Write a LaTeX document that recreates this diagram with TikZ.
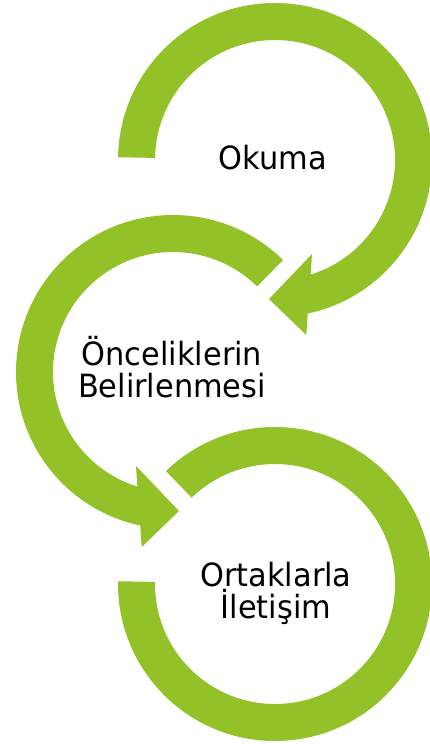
\documentclass[tikz,border=0pt]{standalone}
\usepackage{fontspec}
\setmainfont{DejaVu Sans}[FakeStretch=0.95]
\definecolor{arrowgreen}{RGB}{146,193,40}
\begin{document}
\begin{tikzpicture}[x=1pt,y=1pt,
  lbl/.style={font=\fontsize{32}{31.5}\selectfont, align=center, inner sep=0pt, text=black},
  ring/.style={fill=arrowgreen}]
\useasboundingbox (0,0) rectangle (429,-744);
\coordinate (c1) at (275,-160);
\coordinate (c2) at (173,-372);
\coordinate (c3) at (275,-584);
% circle 1: clockwise, arrow at bottom
\begin{scope}[shift={(c1)}]
\fill[ring] (179:157pt) arc[start angle=179,end angle=-77.95,radius=157pt]
  -- (31.3pt,-175pt) -- (-6pt,-139pt) -- (37pt,-94pt)
  -- (-72.73:120pt) arc[start angle=-72.73,end angle=179,radius=120pt] -- cycle;
\end{scope}
% circle 2: counter-clockwise, arrow at bottom
\begin{scope}[shift={(c2)}]
\fill[ring] (45.5:157pt) arc[start angle=45.5,end angle=257.95,radius=157pt]
  -- (-31.3pt,-175pt) -- (6pt,-139pt) -- (-37pt,-94pt)
  -- (252.73:120pt) arc[start angle=252.73,end angle=45.5,radius=120pt] -- cycle;
\end{scope}
% circle 3: clockwise, open end at left
\begin{scope}[shift={(c3)}]
\fill[ring] (134:157pt) arc[start angle=134,end angle=-181,radius=157pt]
  -- (-181:120pt) arc[start angle=-181,end angle=134,radius=120pt] -- cycle;
\end{scope}
\node[lbl, anchor=base] (okuma) at (273,-169) {Okuma};
\node[lbl, anchor=base] (oncelik) at (172,-397) {Önceliklerin\\Belirlenmesi};
\node[lbl, anchor=base] (ortak) at (276,-618) {Ortaklarla\\İletişim};
\end{tikzpicture}
\end{document}
